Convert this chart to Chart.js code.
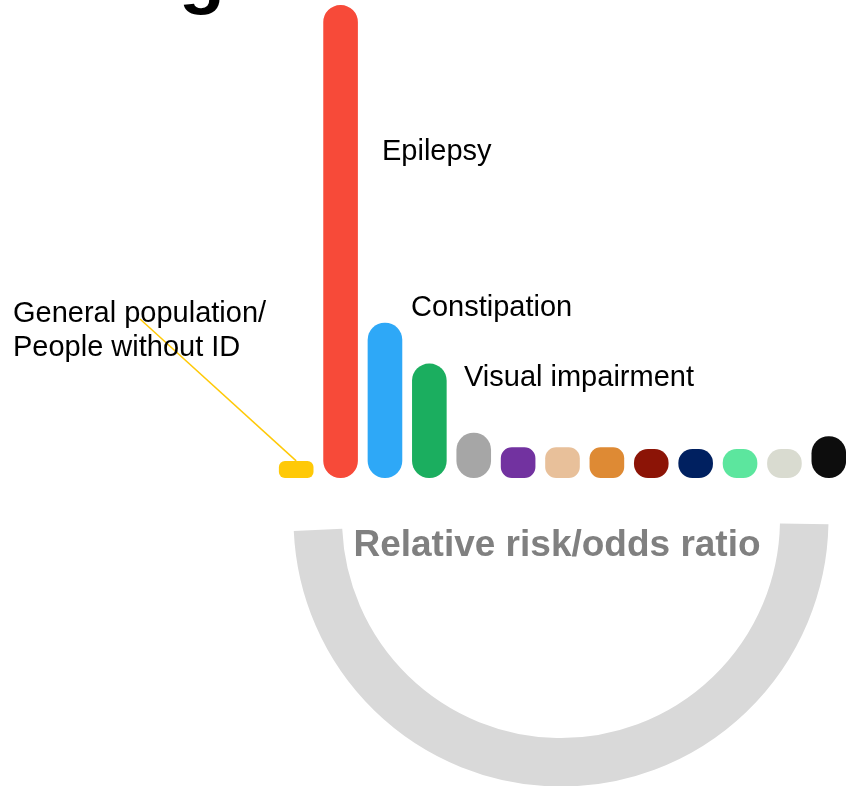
<!DOCTYPE html>
<html>
<head>
<meta charset="utf-8">
<script src="https://cdn.jsdelivr.net/npm/chart.js@4.4.1/dist/chart.umd.min.js"></script>
<style>
html, body { margin: 0; padding: 0; overflow: hidden; background: #fff; }
canvas { display: block; }
</style>
</head>
<body>
<canvas id="myChart" width="852" height="786"></canvas>
<script>
// categories, only the first four are named in the picture
var categories = ["General population/People without ID", "Epilepsy", "Constipation", "Visual impairment",
    "", "", "", "", "", "", "", "", ""];
var riskValues = [1, 27.7, 9.1, 6.7, 2.65, 1.8, 1.8, 1.8, 1.7, 1.7, 1.7, 1.7, 2.45];
var axisTitle = "Relative risk/odds ratio";
var yMax = 28;

var barColors = ["#ffc907", "#f74a39", "#2ea8f7", "#1bae5f", "#a6a6a6", "#7232a0", "#e8c09a",
    "#de8a34", "#8c1406", "#002060", "#5ce69e", "#d9dbd0", "#0d0d0d"];
var barRadius = [6, 17, 17, 17, 17, 11, 11, 11, 14, 14, 14, 14, 17];

var FONT = '"Liberation Sans", Arial, sans-serif';

// grey half ring, axis title and the cut-off headline
var ringPlugin = {
    id: 'ring',
    beforeDraw: function(chart)
    {
        var ctx = chart.ctx;
        ctx.save();
        ctx.strokeStyle = "#d9d9d9";
        ctx.lineWidth = 48.5;
        ctx.beginPath();
        ctx.arc(561, 519, 243.25, 0.02, Math.PI - 0.045, false);
        ctx.stroke();

        ctx.fillStyle = "#808080";
        ctx.font = "bold 37px " + FONT;
        ctx.textAlign = "center";
        ctx.textBaseline = "alphabetic";
        ctx.fillText(axisTitle, 557, 556);

        ctx.fillStyle = "#000";
        ctx.font = "bold 75px " + FONT;
        ctx.textAlign = "left";
        ctx.fillText("g", 179, 0);
        ctx.restore();
    }
};

var labelPlugin = {
    id: 'barLabels',
    afterDatasetsDraw: function(chart)
    {
        var ctx = chart.ctx;
        var meta = chart.getDatasetMeta(0);
        var first = meta.data[0];
        ctx.save();
        // leader line to the reference bar
        ctx.strokeStyle = barColors[0];
        ctx.lineWidth = 1.5;
        ctx.beginPath();
        ctx.moveTo(140, 319);
        ctx.lineTo(first.x, first.y);
        ctx.stroke();

        ctx.fillStyle = "#000";
        ctx.font = "29px " + FONT;
        ctx.textBaseline = "alphabetic";
        var parts = categories[0].split("/");
        ctx.fillText(parts[0] + "/", 13, 322);
        ctx.fillText(parts[1], 13, 356);
        ctx.fillText(categories[1], 382, 160);
        ctx.fillText(categories[2], 411, 316);
        ctx.fillText(categories[3], 464, 386);
        ctx.restore();
    }
};

var canvas = document.getElementById('myChart');
var myChart = new Chart(canvas.getContext('2d'),
{
    type: "bar",
    data:
    {
        labels: categories,
        datasets:
        [{
            data: riskValues,
            backgroundColor: barColors,
            borderRadius: barRadius,
            borderSkipped: false,
            barPercentage: 0.78,
            categoryPercentage: 1
        }]
    },
    options:
    {
        responsive: false,
        animation: false,
        devicePixelRatio: 1,
        layout: {padding: {left: 274, right: 1, top: 0, bottom: 308}},
        plugins:
        {
            legend: {display: false},
            title: {display: false},
            tooltip: {enabled: false}
        },
        scales:
        {
            x:
            {
                display: false
            },
            y:
            {
                display: false,
                min: 0,
                max: yMax
            }
        }
    },
    plugins: [ringPlugin, labelPlugin]
});
</script>
</body>
</html>
